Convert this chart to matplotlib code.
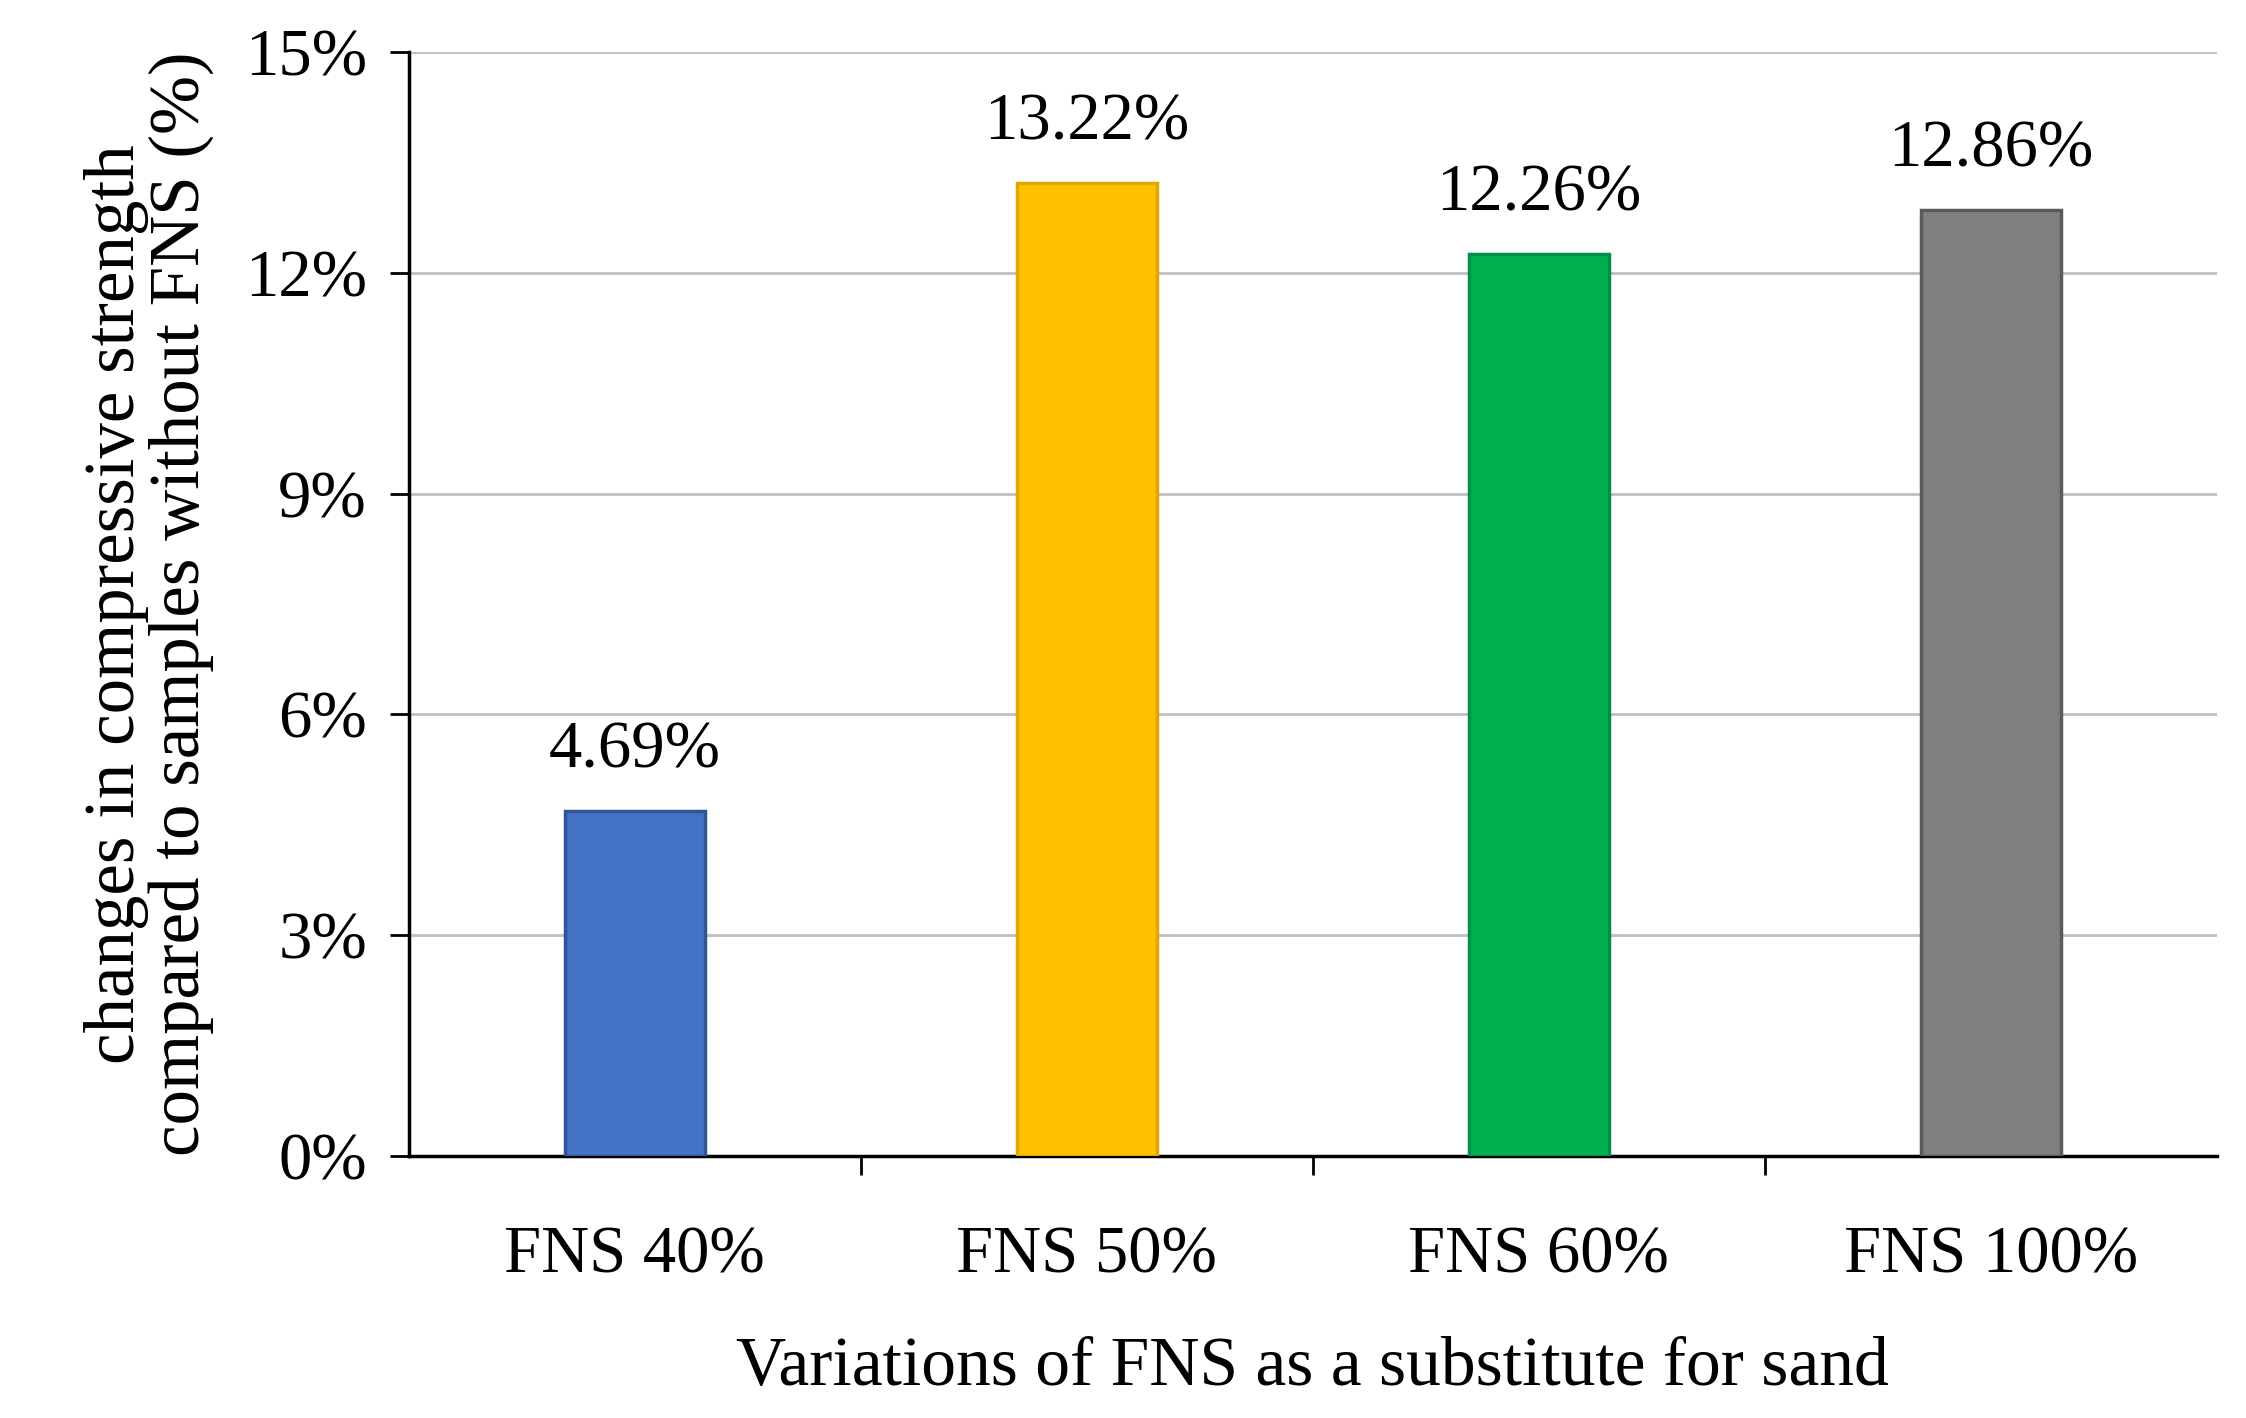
import matplotlib
matplotlib.use("Agg")
import matplotlib.pyplot as plt
from matplotlib.ticker import FuncFormatter

categories = ["FNS 40%", "FNS 50%", "FNS 60%", "FNS 100%"]
values = [4.69, 13.22, 12.26, 12.86]
colors = ["#4472C4", "#FFC000", "#00B050", "#7F7F7F"]
edges = ["#2F5597", "#E0A800", "#00904A", "#5A5A5A"]

plt.rcParams["font.family"] = ["Liberation Serif", "DejaVu Serif"]

fig = plt.figure(figsize=(22.46, 14.18), dpi=100)
ax = fig.add_axes([0.182, 0.185, 0.805, 0.778])

x = range(len(categories))
ax.bar(x, values, width=0.31, color=colors, edgecolor=edges, linewidth=2.5, zorder=3)
for xi, v in zip(x, values):
    ax.text(xi, v + 0.4, f"{v:.2f}%", ha="center", va="bottom", fontsize=48)

ax.set_ylim(0, 15)
ax.set_xlim(-0.5, 3.5)
ax.set_yticks([0, 3, 6, 9, 12, 15])
ax.yaxis.set_major_formatter(FuncFormatter(lambda v, p: f"{v:.0f}%"))
ax.set_xticks(list(x))
ax.set_xticklabels(categories)
ax.set_xticks([0.5, 1.5, 2.5], minor=True)
ax.tick_params(axis="x", which="major", length=0, pad=50, labelsize=48)
ax.tick_params(axis="x", which="minor", length=14, width=2)
ax.tick_params(axis="y", length=14, width=2, labelsize=48, pad=16)
ax.yaxis.grid(True, color="#BFBFBF", linewidth=2, zorder=0)

for s in ["top", "right"]:
    ax.spines[s].set_visible(False)
for s in ["left", "bottom"]:
    ax.spines[s].set_linewidth(2.5)

ax.set_xlabel("Variations of FNS as a substitute for sand", fontsize=50, labelpad=36)
ax.set_ylabel("changes in compressive strength\ncompared to samples without FNS (%)",
              fontsize=51, labelpad=22, linespacing=1.0)

fig.savefig("out.png", dpi=100)
